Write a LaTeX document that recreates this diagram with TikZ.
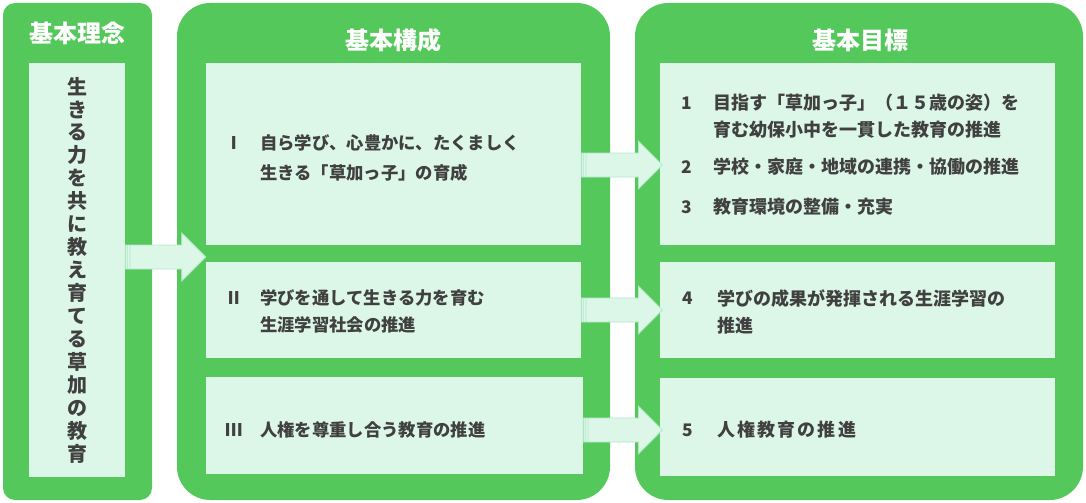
\documentclass[tikz,border=0pt]{standalone}
\usepackage{fontspec}
\setmainfont{Noto Sans CJK JP}
\usetikzlibrary{calc,fit}
\definecolor{panelgreen}{HTML}{55C85B}
\definecolor{boxfill}{HTML}{DCF6E8}
\definecolor{arrowedge}{HTML}{B0E8C8}
\definecolor{inktext}{HTML}{404040}
\tikzset{
  panel/.style={fill=panelgreen,inner sep=0pt},
  innerbox/.style={fill=boxfill,inner sep=0pt},
  title/.style={text=white,font=\fontsize{18}{20}\selectfont\bfseries},
  item/.style={text=inktext,font=\fontsize{13}{20.25}\selectfont\bfseries,anchor=west,align=left,inner sep=0pt},
  num/.style={text=inktext,font=\fontsize{13}{16}\selectfont\bfseries,inner sep=0pt},
  fatarrow/.style={fill=boxfill,draw=arrowedge,line width=0.6pt,
    to path={let \p1=(\tikztostart), \p2=(\tikztotarget) in
      (\x1,\y1+9pt) -- (\x2-18pt,\y1+9pt) -- (\x2-18pt,\y1+18pt) -- (\x2,\y1)
      -- (\x2-18pt,\y1-18pt) -- (\x2-18pt,\y1-9pt) -- (\x1,\y1-9pt) -- cycle
      (\x1+1.5pt,\y1+9pt) -- (\x1+1.5pt,\y1-9pt)
      (\x1+3.5pt,\y1+9pt) -- (\x1+3.5pt,\y1-9pt)}}
}
\begin{document}
\begin{tikzpicture}[x=0.75pt,y=-0.75pt]
  \useasboundingbox (0,0) rectangle (1086,503);

  \node[panel,rounded corners=9pt,fit={(3,3) (152,500)}] (pl) {};
  \node[panel,rounded corners=25pt,fit={(177,3) (610,500)}] (pm) {};
  \node[panel,rounded corners=25pt,fit={(635,3) (1083,500)}] (pr) {};

  \node[title] (tl) at (77,33) {基本理念};
  \node[title] (tm) at (393,40) {基本構成};
  \node[title] (tr) at (860,40) {基本目標};

  \node[innerbox,fit={(29,63) (125,477)}] (l1) {};

  \node[innerbox,fit={(206,63) (581,245)}] (c1) {};
  \node[innerbox,fit={(206,262) (581,358)}] (c2) {};
  \node[innerbox,fit={(206,377) (583,474)}] (c3) {};

  \node[innerbox,fit={(660,63) (1055,245)}] (g1) {};
  \node[innerbox,fit={(660,262) (1055,358)}] (g2) {};
  \node[innerbox,fit={(660,378) (1055,476)}] (g3) {};

  \node[text=inktext,font=\fontsize{15}{17.2}\selectfont\bfseries,align=center,inner sep=0pt] (motto) at (77,270)
    {生\\き\\る\\力\\を\\共\\に\\教\\え\\育\\て\\る\\草\\加\\の\\教\\育};

  \node[num] (n1) at (234,143) {Ⅰ};
  \node[item,font=\fontsize{13}{22.5}\selectfont\bfseries] (s1) at (260,158) {自ら学び、心豊かに、たくましく\\生きる「草加っ子」の育成};
  \node[num] (n2) at (234,298) {Ⅱ};
  \node[item] (s2) at (260,311.5) {学びを通して生きる力を育む\\生涯学習社会の推進};
  \node[num] (n3) at (234,430) {Ⅲ};
  \node[item] (s3) at (260,430) {人権を尊重し合う教育の推進};

  \node[num] (m1) at (687,103) {1};
  \node[item,font=\fontsize{13.5}{20.25}\selectfont\bfseries] (o1) at (713,116.5) {目指す「草加っ子」（１５歳の姿）を\\育む幼保小中を一貫した教育の推進};
  \node[num] (m2) at (687,167) {2};
  \node[item,font=\fontsize{13.5}{20.25}\selectfont\bfseries] (o2) at (713,167) {学校・家庭・地域の連携・協働の推進};
  \node[num] (m3) at (687,207) {3};
  \node[item,font=\fontsize{13.5}{20.25}\selectfont\bfseries] (o3) at (713,207) {教育環境の整備・充実};
  \node[num] (m4) at (688,298) {4};
  \node[item,font=\fontsize{13.5}{20.25}\selectfont\bfseries] (o4) at (717,311.5) {学びの成果が発揮される生涯学習の\\推進};
  \node[num] (m5) at (688,430) {5};
  \node[item,font=\fontsize{13.5}{20.25}\selectfont\bfseries] (o5) at (717,430) {人\kern1.6pt 権\kern1.6pt 教\kern1.6pt 育\kern1.6pt の\kern1.6pt 推\kern1.6pt 進};

  \draw[fatarrow] (l1.east |- 0,257) to (c1.west |- 0,257);
  \draw[fatarrow] (c1.east |- 0,165) to ([xshift=2]g1.west |- 0,165);
  \draw[fatarrow] (c2.east |- 0,310) to ([xshift=2]g2.west |- 0,310);
  \draw[fatarrow] (c3.east |- 0,430) to ([xshift=2]g3.west |- 0,430);
\end{tikzpicture}
\end{document}
